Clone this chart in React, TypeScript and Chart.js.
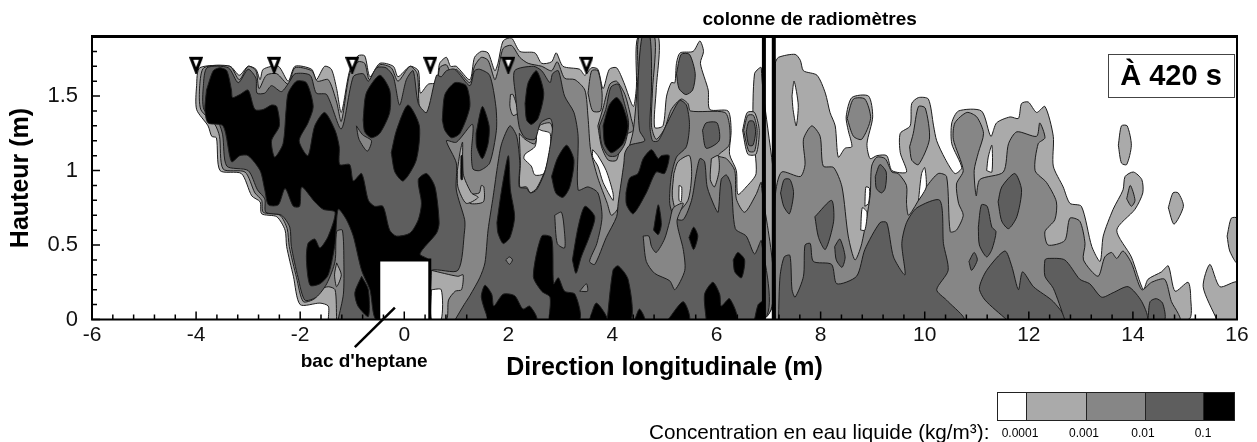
import React, { useEffect, useRef } from "react";
import { Chart, registerables } from "chart.js";

Chart.register(...registerables);

const FONT = '"Liberation Sans", Arial, sans-serif';
const C1 = "#aaaaaa";
const C2 = "#868686";
const C3 = "#5e5e5e";
const C4 = "#000000";
const WHITE = "#ffffff";

const xTitle = "Direction longitudinale (m)";
const yTitle = "Hauteur (m)";
const legendTitle = "Concentration en eau liquide (kg/m³):";
const legendLabels = ["0.0001", "0.001", "0.01", "0.1"];
const sensorX = [-4, -2.5, -1, 0.5, 2, 3.5];
const sensorY = [1.71, 1.71, 1.71, 1.71, 1.71, 1.71];

// Level 1 (0.0001) envelopes: flat x,y lists in metres
const l1Left = [-1.46,0,-1.46,.09,-1.62,.11,-2.0,.10,-2.13,.29,-2.26,.49,-2.29,.60,-2.45,.69,-2.74,.71,-2.77,.79,-2.93,.83,-3.13,.98,-3.54,1.0,-3.61,1.22,-3.70,1.23,-3.77,1.30,-3.99,1.41,-3.99,1.57,-3.93,1.69,-3.35,1.70,-3.17,1.64,-3.0,1.70,-2.85,1.68,-2.77,1.61,-2.71,1.68,-2.42,1.70,-2.23,1.60,-2.10,1.70,-1.78,1.68,-1.69,1.61,-1.53,1.70,-1.40,1.68,-1.30,1.55,-1.21,1.39,-1.05,1.67,-.89,1.77,-.76,1.77,-.66,1.63,-.47,1.72,-.21,1.70,-.12,1.63,.11,1.70,.27,1.67,.31,1.52,.46,1.58,.62,1.59,.68,1.72,.81,1.76,.89,1.70,1.0,1.70,1.26,1.61,1.35,1.76,1.48,1.80,1.61,1.79,1.74,1.67,1.80,1.72,1.90,1.87,2.06,1.89,2.22,1.80,2.51,1.79,2.64,1.72,2.83,1.73,2.92,1.79,3.05,1.70,3.37,1.68,3.47,1.64,3.60,1.69,3.72,1.68,3.82,1.55,3.94,1.68,4.08,1.69,4.22,1.59,4.40,1.43,4.46,1.56,4.49,1.90,4.88,1.90,4.84,1.54,4.81,1.29,4.97,1.30,5.04,1.50,5.13,1.59,5.20,1.59,5.23,1.72,5.30,1.79,5.55,1.80,5.68,1.87,5.75,1.80,5.69,1.72,5.84,1.54,5.87,1.41,6.22,1.40,6.28,1.27,6.25,1.11,6.38,1.0,6.41,.84,6.57,.89,6.76,.98,6.70,1.27,6.73,1.65,6.86,1.69,6.88,0];
const l1Right = [7.13,0,7.13,1.72,7.19,1.76,7.51,1.78,7.61,1.74,7.67,1.67,7.93,1.64,8.09,1.52,8.18,1.39,8.28,1.30,8.34,1.09,8.47,1.15,8.60,1.16,8.53,1.27,8.49,1.36,8.60,1.49,8.92,1.50,9.0,1.36,8.89,1.18,8.95,1.08,9.08,1.10,9.27,1.10,9.37,1.0,9.65,.99,9.53,1.12,9.53,1.25,9.72,1.30,9.75,1.45,9.88,1.49,10.07,1.48,10.17,1.30,10.23,1.20,10.39,1.08,10.58,.98,10.71,1.02,10.52,1.18,10.52,1.32,10.65,1.40,11.09,1.40,11.27,1.23,11.38,1.32,11.64,1.36,11.80,1.35,11.86,1.45,11.99,1.46,12.15,1.39,12.31,1.43,12.47,1.23,12.47,1.03,12.66,.89,12.79,.78,13.01,.76,13.21,.49,13.37,.39,13.43,.56,13.62,.74,13.81,.87,13.85,.96,14.01,.99,14.17,.94,14.19,.85,14.04,.74,13.69,.60,13.97,.42,14.20,.2,14.29,.27,14.55,.32,14.68,.36,14.81,.19,15.06,.25,15.11,.15,15.06,0];
const l1IslandA = [13.72,1.17,13.78,1.30,13.89,1.30,13.97,1.17,13.88,1.04,13.78,1.05];
const l1IslandB = [14.68,.75,14.77,.85,14.87,.85,14.97,.76,14.79,.64];
const l1IslandC = [15.81,.56,15.89,.68,16,.68,16,.38,15.86,.46];
const l1IslandD = [15.61,0,15.35,.22,15.48,.37,15.67,.22,16,.25,16,0];
const l1Column = [6.50,1.27,6.59,1.39,6.73,1.39,6.82,1.27,6.76,1.11,6.60,1.11];
const l1Bac = [.52,.33,1.03,.29,1.13,.30,1.10,.20,.98,.19,.85,.13,.81,0,.52,0];

// Level 2 (0.001) envelopes
const l2Left = [-1.30,0,-1.33,.2,-1.46,.22,-1.62,.2,-1.72,.14,-1.94,.12,-2.07,.28,-2.21,.49,-2.25,.61,-2.39,.70,-2.71,.72,-2.74,.80,-2.87,.85,-3.06,.99,-3.48,1.01,-3.55,1.23,-3.64,1.31,-3.91,1.41,-3.93,1.57,-3.85,1.69,-3.35,1.70,-3.17,1.61,-3.0,1.70,-2.85,1.67,-2.79,1.55,-2.65,1.64,-2.45,1.65,-2.23,1.58,-2.10,1.69,-1.78,1.67,-1.67,1.60,-1.46,1.61,-1.30,1.46,-1.21,1.33,-1.05,1.65,-.89,1.73,-.76,1.72,-.67,1.61,-.47,1.71,-.25,1.69,-.12,1.60,.11,1.70,.25,1.65,.31,1.40,.56,1.40,.68,1.69,.81,1.71,.91,1.64,1.0,1.68,1.26,1.59,1.35,1.70,1.48,1.76,1.61,1.74,1.74,1.61,1.80,1.67,1.90,1.82,2.06,1.84,2.22,1.76,2.38,1.72,2.64,1.70,2.83,1.67,2.94,1.73,3.08,1.62,3.28,1.61,3.47,1.54,3.53,1.36,3.58,1.14,3.72,.95,3.90,.78,3.98,.70,4.11,.75,4.20,.96,4.27,1.09,4.40,1.27,4.49,1.63,4.51,1.90,4.81,1.90,4.77,1.54,4.75,1.30,4.84,1.21,5.0,1.28,5.13,1.41,5.32,1.48,5.45,1.45,5.50,1.40,6.16,1.39,6.25,1.30,6.24,1.17,6.03,1.10,6.19,1.08,6.35,1.0,6.38,.81,6.54,.72,6.76,.84,6.86,.92,6.88,0];
const l2Right = [7.13,0,7.13,.83,7.25,.99,7.61,.96,7.70,1.04,7.67,1.21,7.83,1.30,7.99,1.23,8.05,1.03,8.25,1.02,8.41,.89,8.53,.56,8.66,.40,8.79,.51,8.95,.83,8.98,1.03,9.08,1.09,9.24,1.08,9.37,.99,9.49,.98,9.65,.90,9.65,.78,9.69,.70,9.88,.80,10.03,.89,10.26,.98,10.42,.96,10.49,.59,10.61,.60,10.74,.70,10.65,.78,10.61,.91,10.74,1.0,10.55,1.21,10.58,1.32,10.81,1.39,11.0,1.36,11.13,1.25,11.03,1.12,10.95,1.0,10.99,.83,11.06,.94,11.51,.99,11.61,1.18,11.77,1.26,12.15,1.23,12.21,1.32,12.31,1.22,12.18,1.18,12.12,1.0,12.34,.92,12.53,.79,12.50,.67,12.31,.59,12.37,.50,12.69,.53,12.79,.68,12.98,.66,13.08,.51,13.05,.40,13.33,.29,13.46,.42,13.59,.45,13.69,.41,13.81,.46,13.97,.38,14.17,.2,14.36,.25,14.61,.27,14.74,.12,14.87,.04,14.90,0];
const l2OvalNeck = [8.51,1.35,8.63,1.48,8.85,1.48,8.96,1.35,8.79,1.21,8.63,1.23];
const l2OvalTen = [9.71,1.16,9.78,1.25,9.88,1.43,10.01,1.42,10.09,1.21,9.88,1.04,9.75,1.07];
const l2OvalFourteen = [13.88,.81,13.95,.90,14.04,.80,13.97,.76];
const l2BlobFour = [3.72,1.30,3.82,1.42,3.95,1.58,4.08,1.60,4.24,1.51,4.36,1.35,4.40,1.27,4.20,1.23,4.08,1.07,3.92,1.07,3.79,1.16];
const l2BlobThree = [3.53,1.52,3.60,1.67,3.72,1.67,3.80,1.52,3.77,1.40,3.62,1.40];
const l2Column = [6.52,1.27,6.60,1.37,6.71,1.37,6.78,1.27,6.73,1.13,6.62,1.13];

// Level 1 islands inside level 2, left field
const l1PatchA = [1.26,.84,1.44,.85,1.48,.90,1.53,.89,1.52,.79,1.26,.78];
const l1PatchB = [2.04,1.51,2.09,1.51,2.19,1.39,2.09,1.37,2.03,1.43];
const l1PatchC = [2.21,1.25,2.32,1.21,2.51,1.18,2.60,1.30,2.80,1.32,2.85,1.27,2.80,1.14,2.68,.98,2.54,.88,2.42,.85,2.35,.89,2.22,.89,2.23,1.05];
const l1PatchD = [5.18,.98,5.26,1.06,5.48,1.10,5.52,.96,5.45,.80,5.24,.72,5.15,.83];
const l1PatchE = [5.90,1.08,6.03,1.10,6.05,1.0,5.96,.89,5.88,.94];
const l1PatchF = [1.02,1.0,1.07,1.12,1.12,1.19,1.13,.98,1.29,.85,1.42,.82,1.19,.78,1.03,.89];
const l1PatchG = [-1.30,.38,-1.21,.30,-1.30,.22,-1.34,.3];

// White holes
const holeA = [2.48,1.3,2.63,1.27,2.80,1.25,2.80,1.14,2.68,.98,2.51,.97,2.44,1.03,2.30,1.08,2.32,1.11,2.51,1.16,2.54,1.24];
const holeB = [3.62,1.14,3.72,1.10,3.88,1.0,4.01,.85,4.01,.80,3.82,.92,3.72,1.03,3.62,1.09];
const holeC = [.52,.20,.71,.20,.71,0,.52,0];
const holeD = [5.28,.90,5.33,.89,5.32,.79,5.28,.80];
const holeE = [7.45,1.50,7.49,1.60,7.57,1.44,7.53,1.30,7.47,1.41];
const holeF = [9.88,.80,9.94,.98,10.0,1.02,10.03,.89,9.94,.83];
const holeG = [8.85,.76,8.87,.89,8.94,.88,8.92,.78];
const holeH = [8.77,.60,8.80,.75,8.89,.72,8.85,.60];
const holeI = [11.19,1.0,11.22,1.09,11.29,1.17,11.29,.99];

// Level 3 (0.01)
const l3Left = [-1.27,0,-1.17,.17,-1.16,.38,-1.19,.60,-1.30,.59,-1.33,.39,-1.49,.24,-1.69,.15,-1.91,.13,-2.04,.28,-2.17,.49,-2.20,.62,-2.36,.70,-2.66,.72,-2.68,.81,-2.82,.87,-3.0,1.0,-3.41,1.03,-3.49,1.24,-3.57,1.32,-3.85,1.41,-3.86,1.57,-3.79,1.69,-3.38,1.69,-3.19,1.59,-3.0,1.68,-2.85,1.62,-2.83,1.52,-2.68,1.52,-2.55,1.57,-2.36,1.53,-2.20,1.60,-2.10,1.65,-1.81,1.64,-1.69,1.52,-1.49,1.51,-1.21,1.28,-.98,1.63,-.79,1.65,-.69,1.60,-.53,1.69,-.35,1.69,-.21,1.63,-.09,1.44,.04,1.61,.17,1.67,.27,1.45,.43,1.39,.62,1.64,.71,1.63,.81,1.67,.97,1.68,1.26,1.57,1.35,1.67,1.45,1.68,1.64,1.64,1.76,1.43,1.77,1.27,1.64,1.05,1.45,1.0,1.32,1.01,1.29,1.12,1.31,1.31,1.0,1.19,.81,1.20,1.0,1.05,1.0,.87,1.16,.67,1.16,.60,1.03,.33,.52,.33,.2,.2,0,0];
const l3Main = [.98,0,1.15,.10,1.26,.16,1.45,.28,1.55,.38,1.61,.60,1.71,.83,1.80,1.05,1.87,1.18,2.03,1.30,2.16,1.23,2.22,1.05,2.21,.89,2.35,.88,2.42,.85,2.54,.87,2.70,.99,2.80,1.16,2.85,1.30,2.80,1.35,2.62,1.32,2.51,1.21,2.32,1.22,2.21,1.29,2.14,1.50,2.12,1.67,2.48,1.70,2.64,1.67,2.80,1.59,2.85,1.65,2.96,1.67,3.08,1.50,3.26,1.39,3.34,1.23,3.34,.87,3.53,.89,3.72,.85,3.80,.69,3.70,.51,3.56,.39,3.66,.37,3.88,.55,4.08,.69,4.11,.78,4.22,1.05,4.24,1.12,4.33,1.17,4.62,1.20,4.52,1.27,4.49,1.56,4.57,1.90,4.72,1.90,4.75,1.56,4.72,1.30,4.77,1.20,4.88,1.20,5.04,1.31,5.29,1.47,5.42,1.44,5.48,1.31,5.42,1.16,5.23,1.09,5.13,.96,5.10,.78,5.20,.68,5.36,.67,5.52,.80,5.61,.98,5.68,1.08,5.77,1.06,5.82,.89,5.96,.76,6.03,.72,6.09,.94,6.19,.97,6.28,.90,6.36,.61,6.57,.56,6.73,.44,6.86,.53,6.88,0];
const l3OvalTop = [5.23,1.65,5.32,1.78,5.48,1.78,5.59,1.65,5.54,1.54,5.41,1.51,5.28,1.55];
const l3Square = [5.73,1.27,5.80,1.32,6.01,1.32,6.05,1.20,5.80,1.15];
const l3Column = [6.57,1.26,6.62,1.33,6.71,1.33,6.75,1.26,6.70,1.17,6.62,1.17];
const l3Four = [3.75,1.30,3.87,1.41,3.97,1.56,4.11,1.58,4.20,1.49,4.31,1.32,4.24,1.18,4.08,1.10,3.92,1.10,3.79,1.18];
const l3RightA = [7.19,0,7.22,.29,7.30,.42,7.41,.43,7.45,.2,7.51,.15,7.67,.29,7.70,.5,7.80,.51,7.86,.39,8.21,.37,8.31,.24,8.69,.29,8.85,.47,9.14,.65,9.27,.65,9.40,.42,9.62,.30,9.56,.51,9.65,.65,9.85,.75,10.29,.80,10.36,.51,10.45,.33,10.23,.2,10.42,.13,10.74,0];
const l3RightB = [11.57,0,11.16,.13,11.05,.21,11.19,.33,11.54,.46,11.67,.36,11.80,.2,11.88,.32,12.09,.22,12.47,.12,12.69,0];
const l3RightC = [12.69,0,12.47,.21,12.31,.29,12.31,.40,12.37,.41,12.69,.40,12.98,.27,13.17,.24,13.40,.15,13.62,.18,13.91,.22,14.17,.12,14.26,0];
const l3RightD = [14.29,0,14.33,.12,14.45,.14,14.57,.11,14.61,0];
const l3IslandA = [7.23,.85,7.30,.94,7.41,.94,7.48,.85,7.40,.71,7.29,.76];
const l3IslandB = [7.89,.69,8.21,.80,8.25,.66,8.09,.47,7.96,.55];
const l3IslandC = [8.27,.49,8.37,.54,8.47,.42,8.41,.35,8.30,.40];
const l3IslandD = [9.05,.96,9.14,1.04,9.26,.99,9.24,.88,9.17,.85,9.07,.88];
const l3IslandE = [11.03,.62,11.09,.77,11.20,.76,11.29,.62,11.37,.59,11.29,.47,11.19,.42,11.05,.50];
const l3IslandF = [11.41,.79,11.48,.89,11.73,.98,11.86,.87,11.77,.69,11.61,.61,11.48,.66];
const l3IslandG = [10.85,.39,10.95,.45,11.01,.40,10.90,.33];

// Level 2 islands inside level 3
const l2IslandA = [2.89,.70,3.02,.72,3.08,.58,3.08,.48,2.94,.51];
const l2IslandB = [1.95,.40,2.02,.42,2.08,.40,2.02,.37];
const l2IslandC = [3.37,.19,3.50,.24,3.52,.19];
const l2IslandD = [-.92,1.30,-.80,1.24,-.63,1.20,-.71,1.13,-.87,1.21];
const l2IslandE = [4.59,.56,4.65,.39,4.81,.31,5.10,.26,5.20,.20,5.39,.33,5.36,.47,5.24,.66,5.36,.78,5.17,.75,5.10,.66,5.0,.54,4.84,.45,4.75,.49,4.70,.56];

// Level 4 (0.1)
const l4Main = [-3.80,1.54,-3.67,1.67,-3.54,1.69,-3.41,1.67,-3.32,1.54,-3.30,1.49,-3.16,1.51,-3.0,1.54,-2.87,1.41,-2.71,1.41,-2.55,1.44,-2.45,1.43,-2.40,1.30,-2.55,1.20,-2.49,1.09,-2.33,1.18,-2.27,1.41,-2.23,1.52,-2.07,1.60,-1.88,1.59,-1.75,1.43,-1.85,1.32,-2.02,1.20,-1.85,1.10,-1.72,1.30,-1.53,1.39,-1.33,1.27,-1.25,1.16,-1.24,1.04,-1.05,1.04,-.98,.93,-.82,.98,-.69,.80,-.57,.76,-.41,.76,-.28,.60,-.15,.56,.11,.58,.27,.67,.33,.78,.27,.94,.43,.98,.59,.89,.67,.65,.62,.58,.30,.44,.46,.40,.2,.2,-.53,0,-.66,.2,-.82,.33,-.98,.56,-1.11,.67,-1.27,.74,-1.33,.51,-1.46,.30,-1.62,.24,-1.81,.23,-1.88,.40,-1.85,.51,-1.72,.54,-1.62,.48,-1.46,.56,-1.33,.72,-1.56,.74,-1.72,.79,-1.97,.89,-2.01,.76,-2.13,.76,-2.29,.88,-2.42,.77,-2.61,.77,-2.68,.87,-2.77,1.0,-3.0,1.10,-3.16,1.10,-3.32,1.06,-3.48,1.30,-3.77,1.32,-3.83,1.41];
const l4NearBac = [-.82,.29,-.69,.2,-.69,.02,-.89,.09,-.95,.18];
const l4OvalA = [-.79,1.34,-.73,1.52,-.47,1.64,-.28,1.54,-.28,1.39,-.47,1.25,-.63,1.22,-.76,1.26];
const l4OvalB = [-.25,1.12,-.15,1.27,.07,1.44,.29,1.30,.23,1.07,-.02,.93,-.18,.99];
const l4OvalC = [.73,1.34,.78,1.51,.97,1.59,1.19,1.57,1.26,1.43,1.07,1.25,.91,1.22,.78,1.27];
const l4OvalD = [1.38,1.25,1.50,1.43,1.63,1.30,1.61,1.18,1.50,1.08,1.39,1.16];
const l4OvalE = [1.78,.65,1.87,.87,2.0,1.10,2.04,.87,2.12,.69,2.03,.55,1.90,.51,1.80,.58];
const l4OvalF = [2.32,1.45,2.38,1.59,2.54,1.67,2.68,1.52,2.57,1.35,2.44,1.31,2.35,1.34];
const l4OvalG = [2.83,.96,2.94,1.08,3.12,1.17,3.26,1.07,3.18,.89,3.05,.82,2.91,.85];
const l4OvalH = [3.23,.40,3.34,.62,3.47,.76,3.66,.69,3.56,.56,3.40,.42,3.30,.31];
const l4OvalI = [3.82,1.30,3.94,1.44,4.08,1.49,4.19,1.44,4.30,1.30,4.20,1.18,3.98,1.12,3.85,1.18];
const l4OvalJ = [4.26,.85,4.33,.95,4.49,.98,4.59,1.08,4.75,1.14,4.88,1.08,4.94,1.10,5.09,1.10,5.0,.98,4.84,.99,4.65,.85,4.40,.71,4.27,.77];
const l4OvalK = [4.79,.60,4.88,.77,4.94,.64,4.88,.57];
const l4OvalL = [5.47,.55,5.56,.62,5.64,.56,5.56,.47];
const l4OvalM = [6.32,.40,6.41,.45,6.54,.40,6.48,.28,6.35,.32];
const l4Sliver = [1.09,1.10,1.12,1.10,1.12,.94,1.09,.94];
const l4BottomA = [1.61,0,1.48,.15,1.55,.23,1.68,.17,1.72,.09,1.90,.17,2.12,.16,2.28,.07,2.41,.09,2.54,0];
const l4BottomB = [2.78,0,2.80,.15,2.64,.19,2.48,.29,2.64,.56,2.83,.55,2.87,.24,2.96,.28,3.08,.19,3.28,.17,3.37,0];
const l4BottomC = [3.56,0,3.69,.11,3.90,0];
const l4BottomD = [3.90,0,4.01,.33,4.11,.36,4.30,.27,4.36,0];
const l4BottomE = [4.43,0,4.52,.07,4.62,0];
const l4BottomF = [5.07,0,5.36,.12,5.48,0];
const l4BottomG = [5.80,0,5.77,.17,5.93,.25,6.06,.17,6.09,.09,6.25,.14,6.39,0];
const l4BottomH = [6.73,0,6.80,.10,6.89,.12,6.89,0];

const paintOrder: [string, number[]][] = [
  [C1, l1Left], [C1, l1Right], [C1, l1IslandA], [C1, l1IslandB], [C1, l1IslandC], [C1, l1IslandD], [C1, l1Column],
  [C2, l2Left], [C2, l2Right], [C2, l2OvalNeck], [C2, l2OvalTen], [C2, l2OvalFourteen], [C2, l2BlobFour], [C2, l2BlobThree], [C2, l2Column],
  [C1, l1Bac], [C1, l1PatchA], [C1, l1PatchB], [C1, l1PatchC], [C1, l1PatchD], [C1, l1PatchE], [C1, l1PatchF], [C1, l1PatchG],
  [WHITE, holeA], [WHITE, holeB], [WHITE, holeC], [WHITE, holeD], [WHITE, holeE], [WHITE, holeF], [WHITE, holeG], [WHITE, holeH], [WHITE, holeI],
  [C3, l3Left], [C3, l3Main], [C3, l3OvalTop], [C3, l3Square], [C3, l3Column], [C3, l3Four],
  [C3, l3RightA], [C3, l3RightB], [C3, l3RightC], [C3, l3RightD],
  [C3, l3IslandA], [C3, l3IslandB], [C3, l3IslandC], [C3, l3IslandD], [C3, l3IslandE], [C3, l3IslandF], [C3, l3IslandG],
  [C2, l2IslandA], [C2, l2IslandB], [C2, l2IslandC], [C2, l2IslandD], [C2, l2IslandE],
  [C4, l4Main], [C4, l4NearBac], [C4, l4OvalA], [C4, l4OvalB], [C4, l4OvalC], [C4, l4OvalD], [C4, l4OvalE], [C4, l4OvalF], [C4, l4OvalG], [C4, l4OvalH], [C4, l4OvalI], [C4, l4OvalJ], [C4, l4OvalK], [C4, l4OvalL], [C4, l4OvalM], [C4, l4Sliver],
  [C4, l4BottomA], [C4, l4BottomB], [C4, l4BottomC], [C4, l4BottomD], [C4, l4BottomE], [C4, l4BottomF], [C4, l4BottomG], [C4, l4BottomH],
];

const bacOutline = [-.49,0,-.49,.4,.49,.4,.49,0];
const bacLeader = [-.18,.08,-.95,-.185];
const columnA = [6.91,0,6.91,1.9];
const columnB = [7.10,0,7.10,1.9];

function pts(flat: number[], close: boolean) {
  const out: { x: number; y: number }[] = [];
  for (let i = 0; i < flat.length; i += 2) out.push({ x: flat[i], y: flat[i + 1] });
  if (close) out.push({ x: flat[0], y: flat[1] });
  return out;
}

const contourDatasets = paintOrder
  .map(([color, flat]) => ({
    type: "scatter" as const,
    data: pts(flat, true),
    showLine: true,
    fill: "shape",
    backgroundColor: color,
    borderColor: "#1c1c1c",
    borderWidth: 1,
    pointRadius: 0,
    tension: 0.25,
  }))
  .reverse();

function sensorMarker() {
  const c = document.createElement("canvas");
  c.width = 14;
  c.height = 18;
  const g = c.getContext("2d") as CanvasRenderingContext2D;
  g.beginPath();
  g.moveTo(2, 2.5); g.lineTo(12, 2.5); g.lineTo(7, 15.5); g.closePath();
  g.fillStyle = "#fff";
  g.fill();
  g.lineWidth = 3;
  g.strokeStyle = "#000";
  g.stroke();
  return c;
}

const decorPlugin = {
  id: "decor",
  afterDatasetsDraw(chart: any) {
    const { ctx, chartArea: a, scales } = chart;
    const xs = scales.x;
    const ys = scales.y;
    ctx.save();
    // frame
    ctx.strokeStyle = "#000";
    ctx.lineWidth = 3;
    ctx.beginPath(); ctx.moveTo(a.left - 1, a.top); ctx.lineTo(a.right + 1, a.top); ctx.stroke();
    ctx.lineWidth = 2;
    ctx.beginPath();
    ctx.moveTo(a.left, a.top); ctx.lineTo(a.left, a.bottom); ctx.lineTo(a.right, a.bottom); ctx.lineTo(a.right, a.top);
    ctx.stroke();
    // inward ticks
    ctx.lineWidth = 1.5;
    ctx.beginPath();
    for (let i = 0; i <= 55; i++) {
      const v = -6 + i * 0.4;
      const px = xs.getPixelForValue(v);
      const len = i % 5 === 0 ? 8 : 5;
      ctx.moveTo(px, a.bottom); ctx.lineTo(px, a.bottom - len);
    }
    for (let i = 0; i <= 18; i++) {
      const py = ys.getPixelForValue(i * 0.1);
      const len = i % 5 === 0 ? 8 : 5;
      ctx.moveTo(a.left, py); ctx.lineTo(a.left + len, py);
    }
    ctx.stroke();
    // annotation box
    const bx = 1108, by = 54, bw = 126, bh = 43;
    ctx.fillStyle = "#fff";
    ctx.fillRect(bx, by, bw, bh);
    ctx.lineWidth = 1;
    ctx.strokeStyle = "#444";
    ctx.strokeRect(bx + 0.5, by + 0.5, bw, bh);
    ctx.fillStyle = "#000";
    ctx.textAlign = "center";
    ctx.textBaseline = "middle";
    ctx.font = `bold 29px ${FONT}`;
    ctx.fillText("À 420 s", bx + bw / 2, by + bh / 2 + 1);
    // notes
    ctx.font = `bold 19px ${FONT}`;
    ctx.fillText("colonne de radiomètres", xs.getPixelForValue(7.79), ys.getPixelForValue(2.01));
    ctx.fillText("bac d'heptane", xs.getPixelForValue(-0.77), ys.getPixelForValue(-0.286));
    // colour bar
    const stops = [997, 1026, 1086, 1145, 1203, 1234];
    const cols = [WHITE, C1, C2, C3, C4];
    cols.forEach((c, i) => {
      ctx.fillStyle = c;
      ctx.fillRect(stops[i], 392, stops[i + 1] - stops[i], 28);
    });
    ctx.strokeStyle = "#222";
    ctx.lineWidth = 1;
    stops.forEach((s) => { ctx.beginPath(); ctx.moveTo(s + 0.5, 392); ctx.lineTo(s + 0.5, 420); ctx.stroke(); });
    ctx.strokeRect(997.5, 392.5, 237, 28);
    // legend text
    ctx.fillStyle = "#000";
    ctx.font = `20.7px ${FONT}`;
    ctx.textAlign = "left";
    ctx.fillText(legendTitle, 649, 433);
    ctx.font = `12px ${FONT}`;
    ctx.textAlign = "center";
    legendLabels.forEach((t, i) => ctx.fillText(t, [1020, 1084, 1143, 1203][i], 434));
    ctx.restore();
  },
};

export default function App() {
  const ref = useRef<HTMLCanvasElement>(null);
  useEffect(() => {
    document.body.style.margin = "0";
    const chart = new Chart(ref.current as HTMLCanvasElement, {
      type: "scatter",
      data: {
        datasets: [
          {
            data: sensorX.map((x, i) => ({ x, y: sensorY[i] })),
            pointStyle: sensorMarker(),
            pointRadius: 7,
            showLine: false,
          },
          { data: pts(bacLeader, false), showLine: true, borderColor: "#000", borderWidth: 2.5, pointRadius: 0, clip: false },
          { data: pts(bacOutline, false), showLine: true, fill: "shape", backgroundColor: "#fff", borderColor: "#000", borderWidth: 3, pointRadius: 0 },
          { data: pts(columnA, false), showLine: true, borderColor: "#000", borderWidth: 4, pointRadius: 0 },
          { data: pts(columnB, false), showLine: true, borderColor: "#000", borderWidth: 4, pointRadius: 0 },
          ...contourDatasets,
        ] as any,
      },
      options: {
        animation: false,
        responsive: false,
        layout: { padding: { top: 36.5, right: 20, left: 0, bottom: 0 } },
        plugins: { legend: { display: false }, tooltip: { enabled: false } },
        scales: {
          x: {
            type: "linear",
            min: -6,
            max: 16,
            afterFit: (s: any) => { s.height = 122.5; },
            grid: { display: false },
            border: { display: false },
            ticks: { stepSize: 2, maxRotation: 0, autoSkip: false, padding: -5, color: "#111", font: { family: FONT, size: 21 } },
            title: { display: true, text: xTitle, color: "#000", font: { family: FONT, size: 25, weight: "bold" }, padding: { top: 0, bottom: 59 } },
          },
          y: {
            type: "linear",
            min: 0,
            max: 1.9,
            afterFit: (s: any) => { s.width = 92; },
            grid: { display: false },
            border: { display: false },
            ticks: {
              stepSize: 0.5,
              includeBounds: false,
              padding: 6,
              color: "#111",
              font: { family: FONT, size: 22 },
              callback: (v: number) => String(v),
            },
            title: { display: true, text: yTitle, color: "#000", font: { family: FONT, size: 25, weight: "bold" }, padding: { top: 6, bottom: 0 } },
          },
        },
      } as any,
      plugins: [decorPlugin],
    });
    return () => chart.destroy();
  }, []);
  return <canvas ref={ref} width={1257} height={442} style={{ display: "block" }} />;
}
